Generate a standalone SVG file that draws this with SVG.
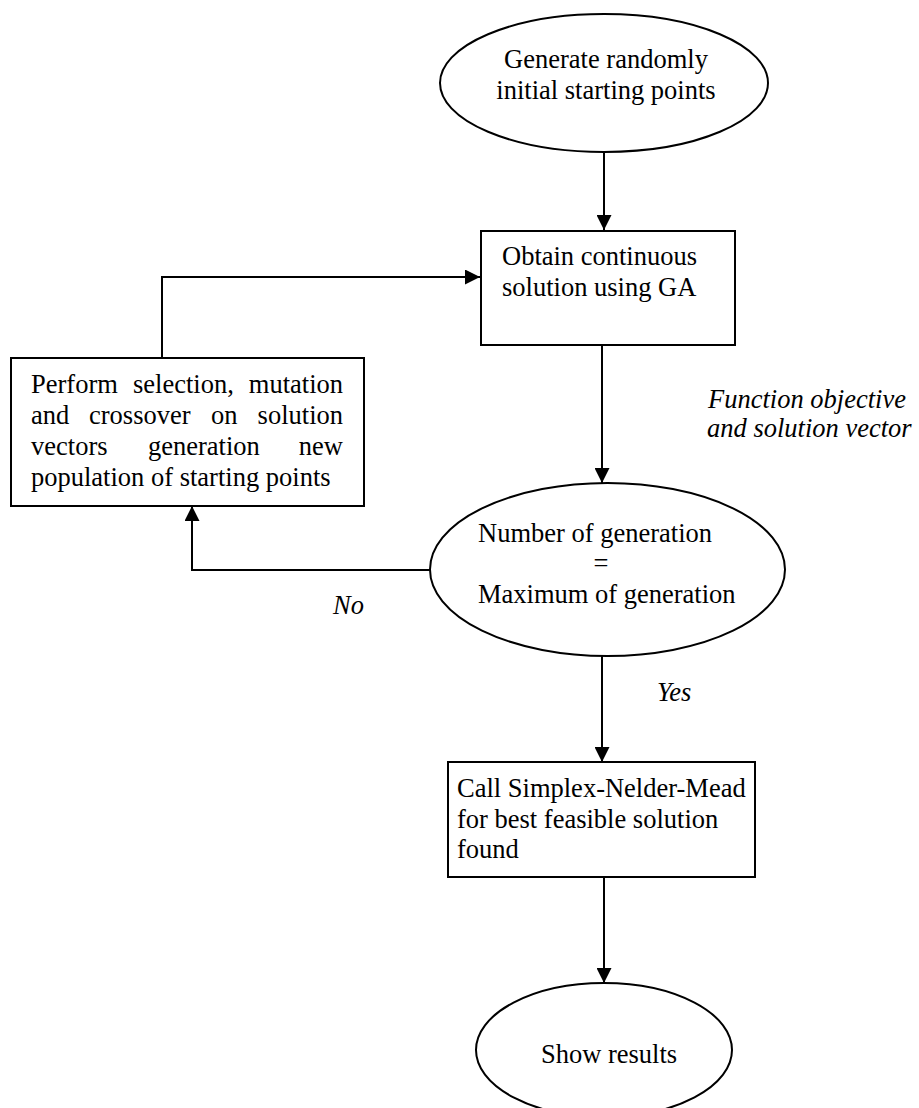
<svg xmlns="http://www.w3.org/2000/svg" width="919" height="1108" viewBox="0 0 919 1108">
<defs>
<style>
.shape{fill:#fff;stroke:#000;stroke-width:2}
.t{font-family:"Liberation Serif","Times New Roman",serif;font-size:26.5px;fill:#000}
.i{font-style:italic}
.c{text-anchor:middle}
.e{text-anchor:end}
.ln{fill:none;stroke:#000;stroke-width:2}
</style>
<marker id="ah" viewBox="0 0 15 15" refX="15" refY="7.5" markerWidth="15" markerHeight="15" markerUnits="userSpaceOnUse" orient="auto">
<path d="M0,0 L15,7.5 L0,15 Z" fill="#000"/>
</marker>
</defs>
<rect width="919" height="1108" fill="#fff"/>
<g id="connectors">
<line class="ln" x1="604" y1="152" x2="604" y2="230" marker-end="url(#ah)"/>
<polyline class="ln" points="162,358 162,277 480,277" marker-end="url(#ah)"/>
<line class="ln" x1="602" y1="345" x2="602" y2="483" marker-end="url(#ah)"/>
<polyline class="ln" points="430,570 192,570 192,506" marker-end="url(#ah)"/>
<line class="ln" x1="602" y1="656" x2="602" y2="762" marker-end="url(#ah)"/>
<line class="ln" x1="604" y1="877" x2="604" y2="983" marker-end="url(#ah)"/>
<text class="t i" x="708" y="408">Function objective</text>
<text class="t i" x="707" y="437">and solution vector</text>
<text class="t i" x="333" y="614">No</text>
<text class="t i" x="657" y="701">Yes</text>
</g>
<g id="start">
<ellipse class="shape" cx="604" cy="83" rx="164" ry="69"/>
<text class="t c" x="606" y="68">Generate randomly</text>
<text class="t c" x="606" y="99">initial starting points</text>
</g>
<g id="obtain">
<rect class="shape" x="481" y="231" width="254" height="114"/>
<text class="t" x="502" y="265">Obtain continuous</text>
<text class="t" x="502" y="296">solution using GA</text>
</g>
<g id="perform">
<rect class="shape" x="11" y="358" width="353" height="148"/>
<text class="t" x="31" y="393">Perform</text>
<text class="t" x="133" y="393">selection,</text>
<text class="t e" x="343" y="393">mutation</text>
<text class="t" x="31" y="424">and</text>
<text class="t" x="89" y="424">crossover</text>
<text class="t" x="211" y="424">on</text>
<text class="t e" x="343" y="424">solution</text>
<text class="t" x="31" y="455">vectors</text>
<text class="t" x="148" y="455">generation</text>
<text class="t e" x="343" y="455">new</text>
<text class="t" x="31" y="486">population of starting points</text>
</g>
<g id="decision">
<ellipse class="shape" cx="607.5" cy="569.5" rx="177.5" ry="86.5"/>
<text class="t" x="478" y="542">Number of generation</text>
<text class="t c" x="601" y="572">=</text>
<text class="t" x="478" y="603">Maximum of generation</text>
</g>
<g id="simplex">
<rect class="shape" x="448" y="762" width="307" height="115"/>
<text class="t" x="457" y="797">Call Simplex-Nelder-Mead</text>
<text class="t" x="457" y="828">for best feasible solution</text>
<text class="t" x="457" y="858">found</text>
</g>
<g id="end">
<ellipse class="shape" cx="604" cy="1050" rx="128" ry="67"/>
<text class="t c" x="609" y="1063">Show results</text>
</g>
</svg>
